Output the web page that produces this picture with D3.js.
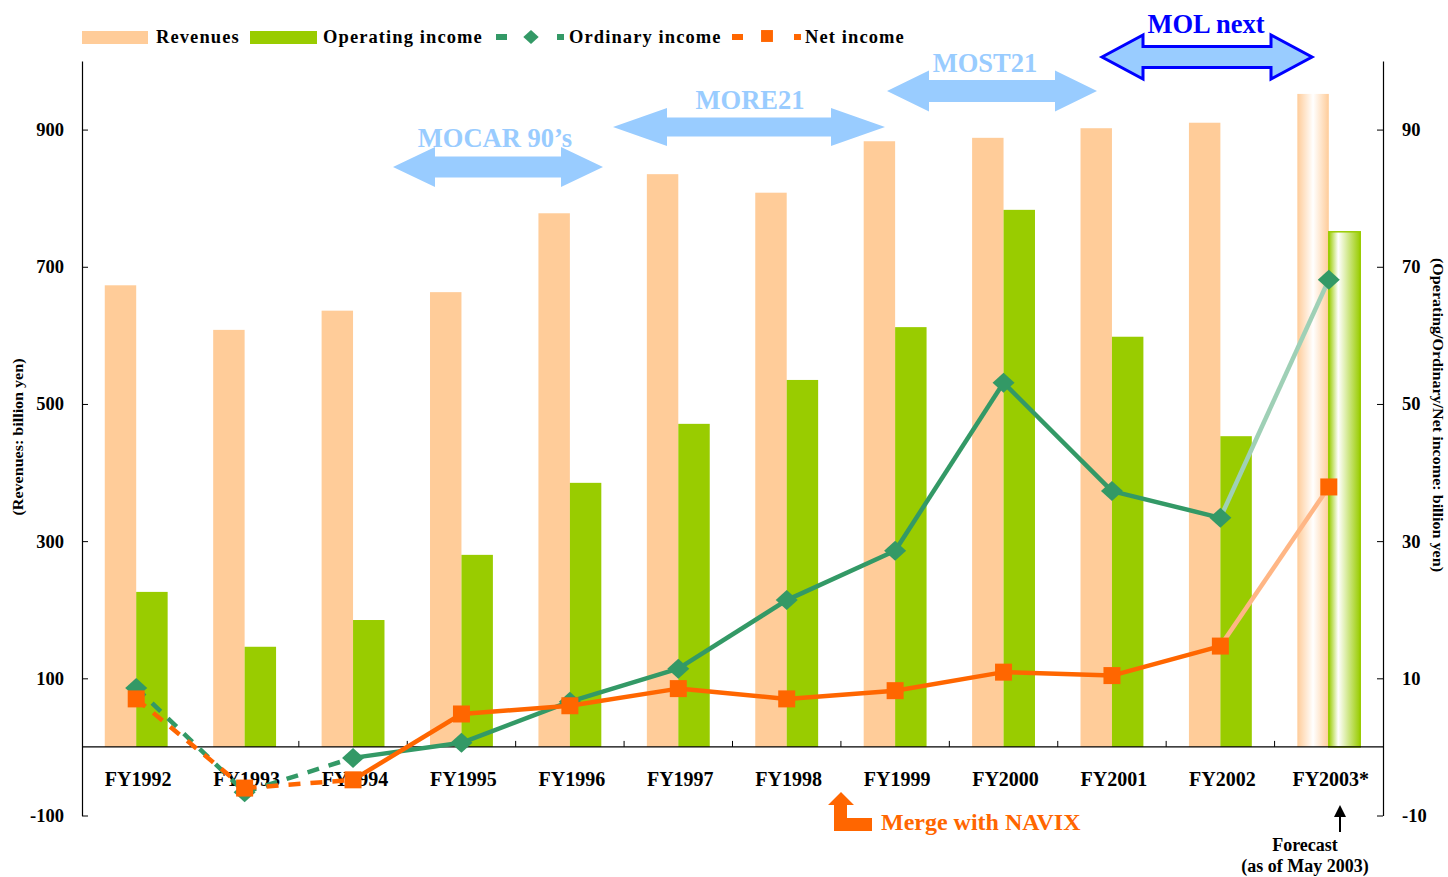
<!DOCTYPE html>
<html>
<head>
<meta charset="utf-8">
<script src="https://cdn.jsdelivr.net/npm/d3@7/dist/d3.min.js"></script>
<style>
  html, body { margin: 0; padding: 0; background: #fff; }
  svg { display: block; }
  text { font-family: "Liberation Serif", "Times New Roman", serif; font-weight: bold; }
</style>
</head>
<body>
<svg id="chart" width="1448" height="877"></svg>
<script>
// Fiscal years and results (revenues on the left axis, incomes on the right axis)
const categories = ["FY1992", "FY1993", "FY1994", "FY1995", "FY1996", "FY1997",
                    "FY1998", "FY1999", "FY2000", "FY2001", "FY2002", "FY2003*"];
const revenues        = [673, 608, 636, 663, 778, 835, 808, 883, 888, 902, 910, 952];
const operatingIncome = [22.6, 14.6, 18.5, 28.0, 38.5, 47.1, 53.5, 61.2, 78.3, 59.8, 45.3, 75.1];
const ordinaryIncome  = [8.6, -6.6, -1.6, 0.6, 6.6, 11.4, 21.4, 28.6, 53.1, 37.3, 33.4, 68.1];
const netIncome       = [7.0, -6.0, -4.8, 4.8, 6.0, 8.5, 7.0, 8.2, 10.9, 10.4, 14.7, 37.9];
const leftTicks  = [-100, 100, 300, 500, 700, 900];
const rightTicks = [-10, 10, 30, 50, 70, 90];

// Segments before this index are drawn dashed; the last point is a forecast
const dashedUntil = 2;
const forecastIndex = categories.length - 1;

const C = {
  rev: "#ffcc99", op: "#99cc00", ord: "#339966", net: "#ff6600",
  ordLight: "#9fd0b6", netLight: "#ffb685", plan: "#99ccff", blue: "#0000ff"
};

const svg = d3.select("#chart");
const plotLeft = 82, plotRight = 1383, plotTop = 61, plotBottom = 815.5;

const x = d3.scaleBand().domain(categories).range([plotLeft, plotRight]).padding(0);
const yL = d3.scaleLinear().domain([-100, 1000]).range([plotBottom, plotTop]);
const yR = d3.scaleLinear().domain([-10, 100]).range([plotBottom, plotTop]);
const bw = x.bandwidth() * 0.29;
const cx = c => x(c) + x.bandwidth() / 2;

// Gradients for the forecast bars
const defs = svg.append("defs");
const gRev = defs.append("linearGradient").attr("id", "gradRev");
gRev.append("stop").attr("offset", "0%").attr("stop-color", C.rev);
gRev.append("stop").attr("offset", "50%").attr("stop-color", "#ffffff");
gRev.append("stop").attr("offset", "100%").attr("stop-color", C.rev);
const gOp = defs.append("linearGradient").attr("id", "gradOp");
gOp.append("stop").attr("offset", "0%").attr("stop-color", C.op);
gOp.append("stop").attr("offset", "30%").attr("stop-color", "#ffffff");
gOp.append("stop").attr("offset", "100%").attr("stop-color", C.op);

// Bars
const bars = svg.append("g");
bars.selectAll("rect.rev").data(categories).join("rect").attr("class", "rev")
  .attr("x", c => cx(c) - bw)
  .attr("y", (c, i) => yL(revenues[i]))
  .attr("width", bw)
  .attr("height", (c, i) => yL(0) - yL(revenues[i]))
  .attr("fill", (c, i) => i === forecastIndex ? "url(#gradRev)" : C.rev);
bars.selectAll("rect.op").data(categories).join("rect").attr("class", "op")
  .attr("x", c => cx(c))
  .attr("y", (c, i) => yR(operatingIncome[i]))
  .attr("width", bw)
  .attr("height", (c, i) => yR(0) - yR(operatingIncome[i]))
  .attr("fill", (c, i) => i === forecastIndex ? "url(#gradOp)" : C.op)
  .attr("stroke", (c, i) => i === forecastIndex ? C.op : "none")
  .attr("stroke-width", 1.5);

// Zero line with category separators
svg.append("line").attr("x1", plotLeft).attr("x2", plotRight)
  .attr("y1", yL(0)).attr("y2", yL(0)).attr("stroke", "#000").attr("stroke-width", 1.2);
svg.append("g").selectAll("line").data(categories.slice(1)).join("line")
  .attr("x1", c => x(c)).attr("x2", c => x(c))
  .attr("y1", yL(0)).attr("y2", yL(0) - 6)
  .attr("stroke", "#000").attr("stroke-width", 1);

// Axes
const plain = d => String(d);
const axL = svg.append("g").attr("transform", `translate(${plotLeft},0)`)
  .call(d3.axisLeft(yL).tickValues(leftTicks).tickFormat(plain)
    .tickSize(-6).tickSizeOuter(0).tickPadding(18));
const axR = svg.append("g").attr("transform", `translate(${plotRight},0)`)
  .call(d3.axisRight(yR).tickValues(rightTicks).tickFormat(plain)
    .tickSize(-6).tickSizeOuter(0).tickPadding(19));
[axL, axR].forEach(a => {
  a.select(".domain").attr("stroke", "#000").attr("stroke-width", 1.2);
  a.selectAll(".tick line").attr("stroke", "#000");
  a.selectAll(".tick text").attr("font-size", 18.5).attr("fill", "#000")
    .attr("font-family", "'Liberation Serif', 'Times New Roman', serif").attr("font-weight", "bold");
});

// Category labels
svg.append("g").selectAll("text").data(categories).join("text")
  .attr("x", c => cx(c) + 2).attr("y", 786)
  .attr("text-anchor", "middle").attr("font-size", 20).attr("fill", "#000")
  .text(c => c);

// Axis titles
svg.append("text").attr("transform", "translate(23,437) rotate(-90)")
  .attr("text-anchor", "middle").attr("font-size", 15)
  .attr("textLength", 157).attr("lengthAdjust", "spacingAndGlyphs").text("(Revenues: billion yen)");
svg.append("text").attr("transform", "translate(1433,415) rotate(90)")
  .attr("text-anchor", "middle").attr("font-size", 15)
  .attr("textLength", 314).attr("lengthAdjust", "spacingAndGlyphs")
  .text("(Operating/Ordinary/Net income: billion yen)");

// Income lines, drawn segment by segment
function drawSeries(values, color, lightColor, marker) {
  const g = svg.append("g");
  for (let i = 0; i < values.length - 1; i++) {
    const isForecast = i + 1 === forecastIndex;
    g.append("line")
      .attr("x1", cx(categories[i])).attr("y1", yR(values[i]))
      .attr("x2", cx(categories[i + 1])).attr("y2", yR(values[i + 1]))
      .attr("stroke", isForecast ? lightColor : color)
      .attr("stroke-width", 4.5)
      .attr("stroke-dasharray", i < dashedUntil ? "12,10" : null);
  }
  g.selectAll("path.m").data(values).join("path").attr("class", "m")
    .attr("transform", (v, i) => `translate(${cx(categories[i])},${yR(v)})`)
    .attr("d", marker).attr("fill", color);
}
const diamond = "M0,-10L11,0L0,10L-11,0Z";
const square = "M-8.5,-8.5H8.5V8.5H-8.5Z";
drawSeries(ordinaryIncome, C.ord, C.ordLight, diamond);
drawSeries(netIncome, C.net, C.netLight, square);

// Legend
const lg = svg.append("g");
const legendText = (xPos, label) => lg.append("text").attr("x", xPos).attr("y", 43)
  .attr("font-size", 18.5).attr("letter-spacing", 1.1).attr("fill", "#000").text(label);
lg.append("rect").attr("x", 82).attr("y", 31).attr("width", 66).attr("height", 13).attr("fill", C.rev);
legendText(156, "Revenues");
lg.append("rect").attr("x", 250).attr("y", 31).attr("width", 67).attr("height", 13).attr("fill", C.op);
legendText(323, "Operating income");
[[496, 507], [557, 564]].forEach(([a, b]) => lg.append("line").attr("x1", a).attr("x2", b)
  .attr("y1", 37).attr("y2", 37).attr("stroke", C.ord).attr("stroke-width", 6));
lg.append("path").attr("transform", "translate(531,37) scale(0.7)").attr("d", diamond).attr("fill", C.ord);
legendText(569, "Ordinary income");
[[732, 743], [794, 801]].forEach(([a, b]) => lg.append("line").attr("x1", a).attr("x2", b)
  .attr("y1", 37).attr("y2", 37).attr("stroke", C.net).attr("stroke-width", 6));
lg.append("path").attr("transform", "translate(767,36) scale(0.7)").attr("d", square).attr("fill", C.net);
legendText(805, "Net income");

// Management plan arrows
function doubleArrow(x0, x1, yc, headLen, shaftHalf, headHalf) {
  return `M${x0},${yc}L${x0 + headLen},${yc - headHalf}L${x0 + headLen},${yc - shaftHalf}` +
    `L${x1 - headLen},${yc - shaftHalf}L${x1 - headLen},${yc - headHalf}L${x1},${yc}` +
    `L${x1 - headLen},${yc + headHalf}L${x1 - headLen},${yc + shaftHalf}` +
    `L${x0 + headLen},${yc + shaftHalf}L${x0 + headLen},${yc + headHalf}Z`;
}
const plans = [
  { name: "MOCAR 90\u2019s", x0: 393, x1: 603, yc: 167, head: 42, sh: 10.5, hh: 20, tx: 495, ty: 147, outline: false },
  { name: "MORE21", x0: 613, x1: 885, yc: 127, head: 54, sh: 9.5, hh: 19, tx: 750, ty: 109, outline: false },
  { name: "MOST21", x0: 887, x1: 1097, yc: 91, head: 42, sh: 11, hh: 20.5, tx: 985, ty: 72, outline: false },
  { name: "MOL next", x0: 1102, x1: 1312, yc: 57, head: 41, sh: 10.5, hh: 22, tx: 1206, ty: 33, outline: true }
];
const pg = svg.append("g");
plans.forEach(p => {
  pg.append("path").attr("d", doubleArrow(p.x0, p.x1, p.yc, p.head, p.sh, p.hh))
    .attr("fill", C.plan)
    .attr("stroke", p.outline ? C.blue : "none").attr("stroke-width", 3)
    .attr("stroke-linejoin", "miter");
  pg.append("text").attr("x", p.tx).attr("y", p.ty).attr("text-anchor", "middle")
    .attr("font-size", 26.5).attr("fill", p.outline ? C.blue : C.plan).text(p.name);
});

// Merger annotation
svg.append("path")
  .attr("d", "M841,792L854,805L847,805L847,818L872,818L872,831L834,831L834,805L828,805Z")
  .attr("fill", C.net);
svg.append("text").attr("x", 881).attr("y", 830).attr("font-size", 24).attr("fill", C.net)
  .text("Merge with NAVIX");

// Forecast note
svg.append("line").attr("x1", 1340).attr("x2", 1340).attr("y1", 832).attr("y2", 814)
  .attr("stroke", "#000").attr("stroke-width", 2);
svg.append("path").attr("d", "M1340,805L1346,817L1334,817Z").attr("fill", "#000");
svg.append("text").attr("x", 1305).attr("y", 851).attr("text-anchor", "middle")
  .attr("font-size", 18).attr("fill", "#000").text("Forecast");
svg.append("text").attr("x", 1305).attr("y", 872).attr("text-anchor", "middle")
  .attr("font-size", 18).attr("fill", "#000").text("(as of May 2003)");
</script>
</body>
</html>
